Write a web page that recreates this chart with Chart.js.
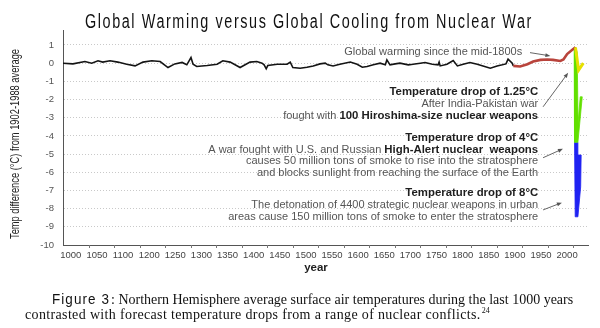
<!DOCTYPE html>
<html><head><meta charset="utf-8">
<script src="https://cdn.jsdelivr.net/npm/chart.js@4.4.1/dist/chart.umd.min.js"></script>
<style>
html,body{margin:0;padding:0;background:#fff;width:600px;height:328px;overflow:hidden;}
#cv{position:absolute;left:0;top:0;}
</style></head>
<body>
<canvas id="cv" width="600" height="328"></canvas>
<script>
// ---- data ----
const xTickValues = [1050,1100,1150,1200,1250,1300,1350,1400,1450,1500,1550,1600,1650,1700,1750,1800,1850,1900,1950,2000];
const xTickLabels = ['1000','1050','1100','1200','1250','1300','1350','1400','1450','1500','1550','1600','1650','1700','1750','1800','1850','1900','1950','2000'];
const yTickValues = [1,0,-1,-2,-3,-4,-5,-6,-7,-8,-9,-10];

const blackYears = [1035,1054,1077,1090,1102,1111,1125,1140,1157,1173,1188,1205,1221,1236,1249,1263,1272,1280,1284,1291,1311,1330,1341,1355,1374,1393,1406,1416,1420,1424,1427,1445,1464,1470,1475,1489,1502,1514,1527,1537,1542,1552,1565,1585,1598,1608,1617,1629,1642,1652,1655,1661,1671,1680,1696,1705,1719,1728,1742,1753,1755,1757,1770,1782,1790,1801,1814,1828,1839,1853,1866,1876,1883,1887,1895,1897];
const blackTemps = [0,-0.04,0.09,0,0.13,0.06,0.13,0.06,-0.06,-0.15,0.06,0.13,0.09,-0.24,-0.04,0.04,-0.09,0.31,-0.06,-0.18,-0.13,-0.06,0.13,0.06,-0.24,0.06,0.09,0,-0.09,-0.31,-0.13,-0.06,-0.06,0.06,-0.24,-0.28,-0.22,-0.15,-0.04,0,-0.09,-0.15,-0.06,0.06,-0.06,-0.22,-0.18,-0.09,0,-0.09,0.18,-0.09,-0.04,0,-0.09,-0.06,0,0.04,-0.06,-0.09,0.06,-0.15,-0.06,0.15,-0.15,-0.06,0.04,-0.06,-0.15,-0.28,-0.15,-0.09,-0.04,0.22,0,-0.15];

const redYears = [1897,1910,1924,1935,1949,1962,1973,1987,1993,2000,2010,2016];
const redTemps = [-0.15,-0.18,-0.06,0.09,0.18,0.2,0.18,0.12,0.2,0.5,0.74,0.87];

const yellowYears = [2016,2022,2031];
const yellowTemps = [0.87,-0.38,0.0];

const greenYears = [2013.5,2014.2,2020.7,2029,2025.1,2021,2019.3,2016.4];
const greenTemps = [0.8,-4.35,-4.35,-1.85,-1.85,-3.3,0.6,0.87];

const blueYears = [2014.2,2015.5,2020.7,2026,2026.9,2020.7,2020.7];
const blueTemps = [-4.35,-8.45,-8.45,-6.8,-5.05,-5.05,-4.35];

// annotation text: [value(y), runs]
const notes = [
  {v: -1.58, runs: [['Temperature drop of 1.25°C', true]]},
  {v: -2.24, runs: [['After India-Pakistan war', false]]},
  {v: -2.90, runs: [['fought with ', false], ['100 Hiroshima-size nuclear weapons', true]]},
  {v: -4.10, runs: [['Temperature drop of 4°C', true]]},
  {v: -4.77, runs: [['A war fought with U.S. and Russian ', false], ['High-Alert nuclear  weapons', true]]},
  {v: -5.40, runs: [['causes 50 million tons of smoke to rise into the stratosphere', false]]},
  {v: -6.03, runs: [['and blocks sunlight from reaching the surface of the Earth', false]]},
  {v: -7.15, runs: [['Temperature drop of 8°C', true]]},
  {v: -7.80, runs: [['The detonation of 4400 strategic nuclear weapons in urban', false]]},
  {v: -8.45, runs: [['areas cause 150 million tons of smoke to enter the stratosphere', false]]}
];
const warmNote = {v: 0.62, x: 1914, text: 'Global warming since the mid-1800s'};
const arrows = [
  [1929, 0.58, 1968, 0.40],
  [1954, -2.40, 2002, -0.53],
  [1954, -5.20, 1992, -4.71],
  [1954, -8.07, 1990, -7.67]
];
const chartTitle = 'Global Warming versus Global Cooling from Nuclear War';
const yTitle = 'Temp difference (°C) from 1902-1988 average';
const xTitle = 'year';
const figLabel = 'Figure 3';
const captionLine1 = ': Northern Hemisphere average surface air temperatures during the last 1000 years';
const captionLine2 = 'contrasted with forecast temperature drops from a range of nuclear conflicts.';
const captionSup = '24';

const pts = (xs, ys) => xs.map((x, i) => ({x: x, y: ys[i]}));

const SANS = '"Liberation Sans", Arial, sans-serif';
const REG = '11px ' + SANS;
const BOLD = 'bold 11.4px ' + SANS;
const SERIF = '"Liberation Serif", "Times New Roman", serif';

function fitText(ctx, text, x, y, targetW, spacing, align) {
  // draws text horizontally condensed to targetW
  if ('letterSpacing' in ctx) ctx.letterSpacing = spacing + 'px';
  const w = ctx.measureText(text).width;
  const s = targetW / w;
  ctx.save();
  ctx.translate(x, y);
  ctx.scale(s, 1);
  ctx.textAlign = align || 'left';
  ctx.fillText(text, 0, 0);
  ctx.restore();
  if ('letterSpacing' in ctx) ctx.letterSpacing = '0px';
  return targetW;
}

const decor = {
  id: 'decor',
  afterDraw(chart) {
    const ctx = chart.ctx, xs = chart.scales.x, ys = chart.scales.y, ca = chart.chartArea;
    ctx.save();
    // x tick marks
    ctx.strokeStyle = '#777'; ctx.lineWidth = 1;
    for (let k = 0; k < xTickValues.length; k++) {
      const px = Math.round(ca.left + 25.5 * (k + 1)) + 0.5;
      ctx.beginPath(); ctx.moveTo(px, ca.bottom); ctx.lineTo(px, ca.bottom + 3); ctx.stroke();
    }
    // chart title
    ctx.fillStyle = '#111';
    ctx.textBaseline = 'alphabetic';
    ctx.font = '20px ' + SANS;
    fitText(ctx, chartTitle, 309, 28, 448, 2.2, 'center');
    // axis titles
    ctx.fillStyle = '#222';
    ctx.font = 'bold 11.5px ' + SANS;
    ctx.textAlign = 'center'; ctx.textBaseline = 'middle';
    ctx.fillText(xTitle, 316, ca.bottom + 23);
    ctx.save();
    ctx.translate(15.5, 144);
    ctx.rotate(-Math.PI / 2);
    ctx.font = '12.5px ' + SANS;
    fitText(ctx, yTitle, 0, 0, 190, 0, 'center');
    ctx.restore();
    // notes
    ctx.textBaseline = 'middle'; ctx.textAlign = 'left';
    const right = xs.getPixelForValue(1944.6);
    notes.forEach(n => {
      let total = 0;
      const ws = n.runs.map(r => { ctx.font = r[1] ? BOLD : REG; const ww = ctx.measureText(r[0]).width; total += ww; return ww; });
      let x = right - total;
      const y = ys.getPixelForValue(n.v);
      n.runs.forEach((r, i) => {
        ctx.font = r[1] ? BOLD : REG;
        ctx.fillStyle = r[1] ? '#1e1e1e' : '#555';
        ctx.fillText(r[0], x, y);
        x += ws[i];
      });
    });
    ctx.font = REG; ctx.fillStyle = '#555'; ctx.textAlign = 'right';
    ctx.fillText(warmNote.text, xs.getPixelForValue(warmNote.x), ys.getPixelForValue(warmNote.v));
    // arrows
    ctx.strokeStyle = '#555'; ctx.fillStyle = '#555'; ctx.lineWidth = 0.9;
    arrows.forEach(a => {
      const x1 = xs.getPixelForValue(a[0]), y1 = ys.getPixelForValue(a[1]);
      const x2 = xs.getPixelForValue(a[2]), y2 = ys.getPixelForValue(a[3]);
      const ang = Math.atan2(y2 - y1, x2 - x1);
      ctx.beginPath(); ctx.moveTo(x1, y1); ctx.lineTo(x2 - 3 * Math.cos(ang), y2 - 3 * Math.sin(ang)); ctx.stroke();
      ctx.beginPath();
      ctx.moveTo(x2, y2);
      ctx.lineTo(x2 - 5 * Math.cos(ang) + 2 * Math.sin(ang), y2 - 5 * Math.sin(ang) - 2 * Math.cos(ang));
      ctx.lineTo(x2 - 5 * Math.cos(ang) - 2 * Math.sin(ang), y2 - 5 * Math.sin(ang) + 2 * Math.cos(ang));
      ctx.closePath(); ctx.fill();
    });
    // caption
    ctx.fillStyle = '#111';
    ctx.textBaseline = 'alphabetic'; ctx.textAlign = 'left';
    ctx.font = '15px ' + SANS;
    const figW = 58;
    fitText(ctx, figLabel, 52, 304, figW, 1.2, 'left');
    ctx.font = '14px ' + SERIF;
    ctx.fillText(captionLine1, 52 + figW + 1, 304);
    if ('letterSpacing' in ctx) ctx.letterSpacing = '0.35px';
    ctx.fillText(captionLine2, 25, 319);
    const w2 = ctx.measureText(captionLine2).width;
    if ('letterSpacing' in ctx) ctx.letterSpacing = '0px';
    ctx.font = '8px ' + SERIF;
    ctx.fillText(captionSup, 25 + w2 + 1, 313);
    ctx.restore();
  }
};

Chart.defaults.font.family = SANS;

new Chart(document.getElementById('cv'), {
  type: 'line',
  data: {
    datasets: [
      {data: pts(blackYears, blackTemps), borderColor: '#141414', borderWidth: 1.6, pointRadius: 0, fill: false, order: 5, tension: 0},
      {data: pts(blueYears, blueTemps), borderColor: '#1f22f2', backgroundColor: '#1f22f2', borderWidth: 0.8, pointRadius: 0, fill: 'shape', order: 4},
      {data: pts(greenYears, greenTemps), borderColor: '#62e000', backgroundColor: '#62e000', borderWidth: 0.8, pointRadius: 0, fill: 'shape', order: 3},
      {data: pts(redYears, redTemps), borderColor: '#b9443c', borderWidth: 2.6, pointRadius: 0, fill: false, order: 2},
      {data: pts(yellowYears, yellowTemps), borderColor: '#e6e000', borderWidth: 3, pointRadius: 0, fill: false, order: 1}
    ]
  },
  options: {
    responsive: false,
    animation: false,
    devicePixelRatio: 1,
    layout: {padding: {top: 30, right: 12, left: 0, bottom: 0}},
    plugins: {legend: {display: false}, tooltip: {enabled: false}, title: {display: false}},
    scales: {
      x: {
        type: 'linear', min: 1035, max: 2040,
        afterBuildTicks: s => { s.ticks = xTickValues.map(v => ({value: v})); },
        afterFit: s => { s.height = 83; },
        ticks: {autoSkip: false, maxRotation: 0, minRotation: 0, padding: 5, color: '#444', font: {size: 9.5},
          callback: (v, i) => xTickLabels[i]},
        grid: {display: false, drawTicks: false},
        border: {display: true, color: '#555', width: 1}
      },
      y: {
        type: 'linear', min: -10, max: 1.825,
        afterBuildTicks: s => { s.ticks = yTickValues.map(v => ({value: v})); },
        afterFit: s => { s.width = 63; },
        ticks: {padding: 9, color: '#555', font: {size: 9.5}},
        grid: {color: '#c9c9c9', lineWidth: 1, drawTicks: false},
        border: {display: true, color: '#555', width: 1, dash: [1, 2]}
      }
    }
  },
  plugins: [decor]
});
</script>
</body></html>
